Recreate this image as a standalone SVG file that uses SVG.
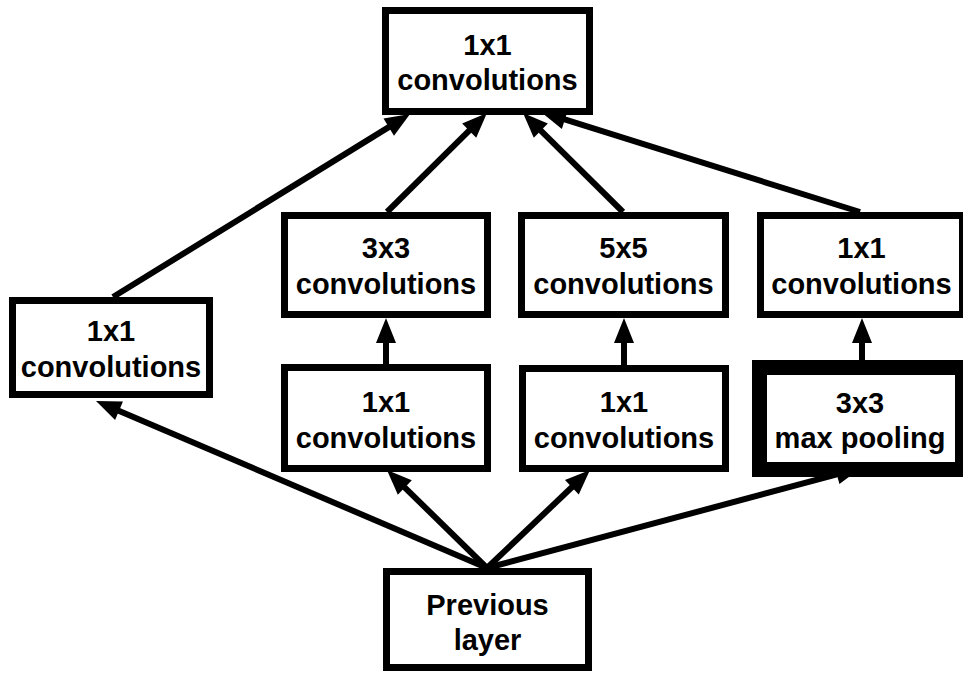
<svg xmlns="http://www.w3.org/2000/svg" width="963" height="676" viewBox="0 0 963 676">
<style>
.box{fill:#fff;stroke:#000;stroke-width:7}
.pool{fill:#fff;stroke:#000;stroke-width:15}
.lbl{font-family:"Liberation Sans",Arial,sans-serif;font-weight:bold;font-size:29px;text-anchor:middle;fill:#000}
.edge{stroke:#000;stroke-width:6;fill:none;marker-end:url(#ah)}
</style>
<defs>
<marker id="ah" markerUnits="userSpaceOnUse" markerWidth="26" markerHeight="20" refX="1" refY="10" orient="auto" overflow="visible">
<path d="M0,0 L25,10 L0,20 z" fill="#000"/>
</marker>
</defs>
<rect width="963" height="676" fill="#fff"/>
<g id="connectors">
<line class="edge" x1="487" y1="568" x2="118.1" y2="410.4"/>
<line class="edge" x1="487" y1="568" x2="404.1" y2="486.8"/>
<line class="edge" x1="487" y1="568" x2="572.6" y2="486.5"/>
<line class="edge" x1="487" y1="568" x2="837.8" y2="474.2"/>
<line class="edge" x1="386" y1="366" x2="386" y2="342"/>
<line class="edge" x1="624" y1="366" x2="624" y2="342"/>
<line class="edge" x1="862" y1="362" x2="862" y2="342"/>
<line class="edge" x1="113" y1="297" x2="389.6" y2="126.6"/>
<line class="edge" x1="387" y1="212" x2="469.9" y2="129.9"/>
<line class="edge" x1="623" y1="212" x2="540.1" y2="129.9"/>
<line class="edge" x1="860" y1="212" x2="563.9" y2="119.2"/>
</g>
<g id="top_1x1">
<rect class="box" x="385.5" y="10.5" width="204" height="101"/>
<text class="lbl" x="487.5" y="55">1x1</text>
<text class="lbl" x="487.5" y="90">convolutions</text>
</g>
<g id="left_1x1">
<rect class="box" x="12.5" y="300.5" width="197" height="94"/>
<text class="lbl" x="111" y="341">1x1</text>
<text class="lbl" x="111" y="377">convolutions</text>
</g>
<g id="conv3x3">
<rect class="box" x="284.5" y="215.5" width="203" height="99"/>
<text class="lbl" x="386" y="258">3x3</text>
<text class="lbl" x="386" y="294">convolutions</text>
</g>
<g id="conv5x5">
<rect class="box" x="521.5" y="215.5" width="204" height="99"/>
<text class="lbl" x="623.5" y="258">5x5</text>
<text class="lbl" x="623.5" y="294">convolutions</text>
</g>
<g id="right_1x1">
<rect class="box" x="760.5" y="215.5" width="202" height="99"/>
<text class="lbl" x="861.5" y="258">1x1</text>
<text class="lbl" x="861.5" y="294">convolutions</text>
</g>
<g id="reduce_3x3">
<rect class="box" x="284.5" y="367.5" width="203" height="101"/>
<text class="lbl" x="386" y="412">1x1</text>
<text class="lbl" x="386" y="448">convolutions</text>
</g>
<g id="reduce_5x5">
<rect class="box" x="522.5" y="368.5" width="203" height="100"/>
<text class="lbl" x="624" y="412">1x1</text>
<text class="lbl" x="624" y="448">convolutions</text>
</g>
<g id="maxpool">
<rect class="pool" x="759.5" y="367.5" width="203" height="102"/>
<text class="lbl" x="860" y="413">3x3</text>
<text class="lbl" x="860" y="448">max pooling</text>
</g>
<g id="previous">
<rect class="box" x="386.5" y="571.5" width="202" height="96"/>
<text class="lbl" x="487.5" y="615">Previous</text>
<text class="lbl" x="487.5" y="650">layer</text>
</g>
</svg>
